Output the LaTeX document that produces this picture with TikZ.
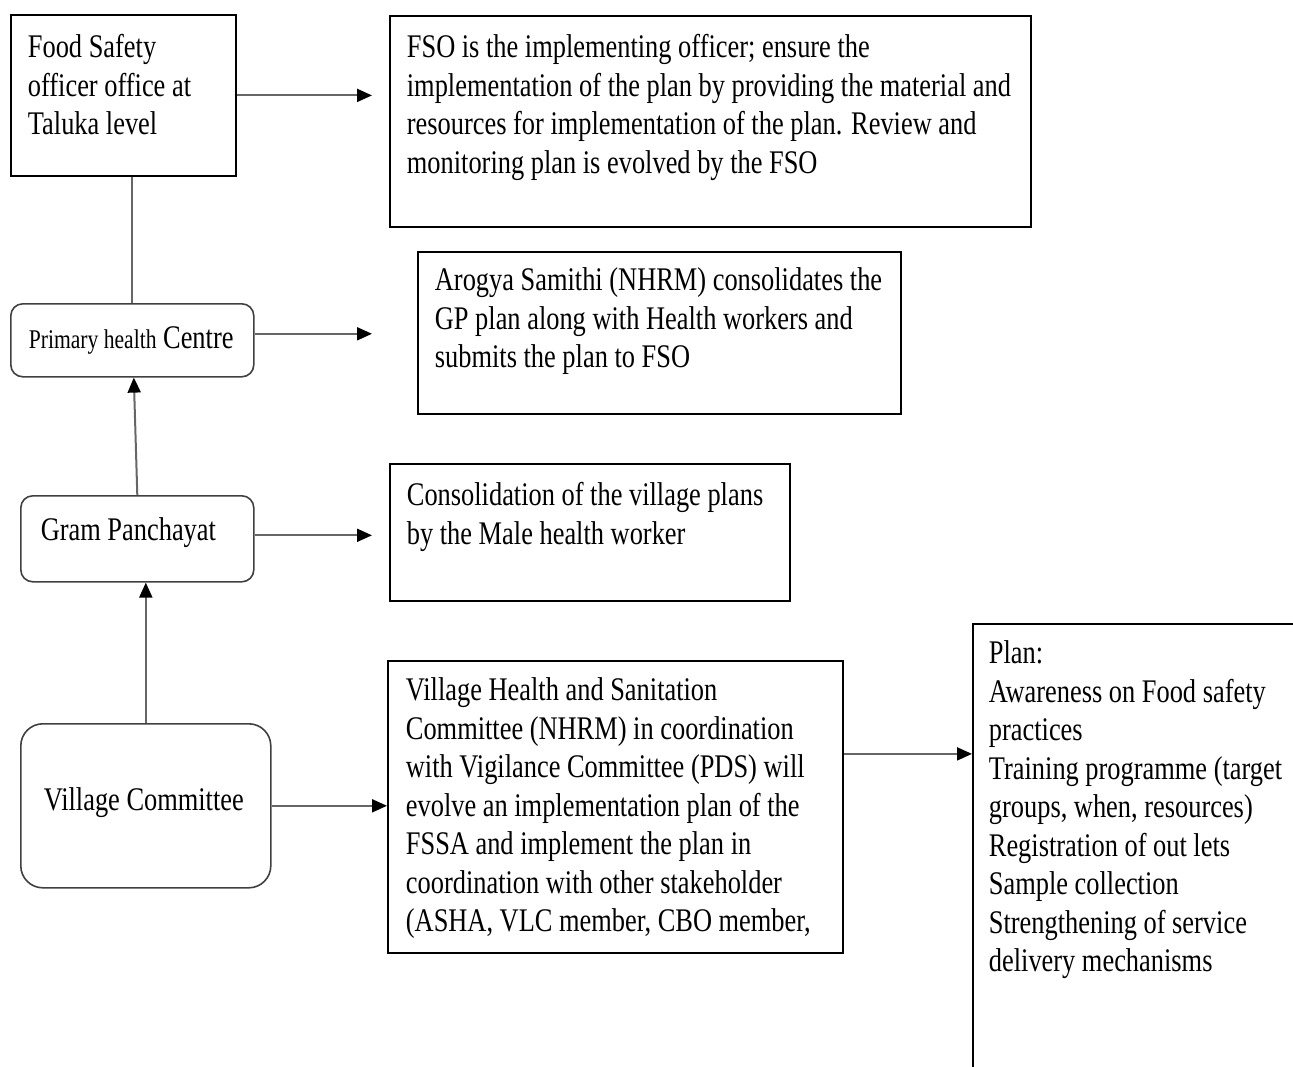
\documentclass[tikz,border=0pt]{standalone}
\usepackage{fontspec}
\setmainfont{Liberation Serif}[FakeStretch=0.8]
\usetikzlibrary{arrows.meta}

% one printed line of a box, full box width, with a strut so that all lines keep the same spacing
\newcommand\tline[1]{\hbox to \hsize{\strut#1\hfil}}
% body of a box: fixed width and height, lines stacked from the top
\newcommand\panelbody[3]{\parbox[c][#2][t]{#1}{#3}}

\begin{document}
\begin{tikzpicture}[x=1pt,y=-1pt,
  every node/.style={font=\fontsize{33}{38.5}\selectfont},
  box/.style={draw=black, line width=1.8pt, anchor=north west,
    inner xsep=17pt, inner ysep=15pt},
  rbox/.style={box, draw=black!75, line width=1.6pt, rounded corners=12pt},
  link/.style={draw=black!60, line width=2pt},
  flow/.style={link, -{Triangle[length=15pt,width=13pt,color=black]}}]

\useasboundingbox (0,0) rectangle (1293,1066);
\clip (0,0) rectangle (1293,1066);

% left column: the levels
\node[box, inner ysep=16pt] (food) at (10,14)
  {\panelbody{191pt}{129pt}{%
    \tline{Food Safety}
    \tline{officer office at}
    \tline{Taluka level}}};

\node[rbox, inner xsep=18pt, inner ysep=18pt] (phc) at (10,303)
  {\panelbody{207pt}{37pt}{%
    \tline{{\fontsize{27}{38.5}\selectfont Primary health} Centre}}};

\node[rbox, inner xsep=20pt, inner ysep=18pt] (gp) at (20,495)
  {\panelbody{193pt}{50pt}{\tline{Gram Panchayat}}};

\node[rbox, rounded corners=22pt, inner xsep=23pt, inner ysep=60pt] (vc) at (20,723)
  {\panelbody{204pt}{44pt}{\tline{Village Committee}}};

% right column: what happens at each level
\node[box, inner ysep=15pt] (fso) at (389,15)
  {\panelbody{607pt}{181pt}{%
    \tline{FSO is the implementing officer; ensure the}
    \tline{implementation of the plan by providing the material and}
    \tline{resources for implementation of the plan. Review and}
    \tline{monitoring plan is evolved by the FSO}}};

\node[box, inner ysep=12pt] (arogya) at (417,251)
  {\panelbody{449pt}{138pt}{%
    \tline{Arogya Samithi (NHRM) consolidates the}
    \tline{GP plan along with Health workers and}
    \tline{submits the plan to FSO}}};

\node[box] (consol) at (389,463)
  {\panelbody{366pt}{107pt}{%
    \tline{Consolidation of the village plans}
    \tline{by the Male health worker}}};

\node[box, inner xsep=18pt, inner ysep=13pt] (vhsc) at (387,660)
  {\panelbody{419pt}{266pt}{%
    \tline{Village Health and Sanitation}
    \tline{Committee (NHRM) in coordination}
    \tline{with Vigilance Committee (PDS) will}
    \tline{evolve an implementation plan of the}
    \tline{FSSA and implement the plan in}
    \tline{coordination with other stakeholder}
    \tline{(ASHA, VLC member, CBO member,}}};

\node[box, inner xsep=16pt, inner ysep=13pt] (plan) at (972,623)
  {\panelbody{388pt}{474pt}{%
    \tline{Plan:}
    \tline{Awareness on Food safety}
    \tline{practices}
    \tline{Training programme (target}
    \tline{groups, when, resources)}
    \tline{Registration of out lets}
    \tline{Sample collection}
    \tline{Strengthening of service}
    \tline{delivery mechanisms}}};

% connectors
\coordinate (tipcol) at (372,0);

\draw[flow] (food.east) -- (food.east -| tipcol);
\draw[link] (food.south -| phc.north) -- (phc.north);
\draw[flow] ([yshift=6.5pt]phc.east) -- ([yshift=6.5pt]phc.east -| tipcol);
\draw[flow] (gp.north) -- ([xshift=1.5pt]phc.south);
\draw[flow] ([yshift=3.5pt]gp.east) -- ([yshift=3.5pt]gp.east -| tipcol);
\draw[flow] (vc.north) -- (vc.north |- gp.south);
\draw[flow] (vc.east) -- (vc.east -| vhsc.west);
\draw[flow] ([yshift=53pt]vhsc.east) -- ([yshift=53pt]vhsc.east -| plan.west);

\end{tikzpicture}
\end{document}
